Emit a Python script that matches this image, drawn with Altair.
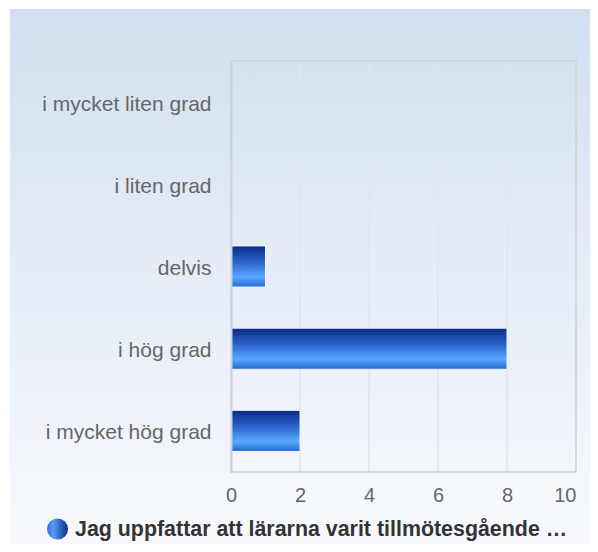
import altair as alt
import pandas as pd

categories = ["i mycket liten grad", "i liten grad", "delvis", "i hög grad", "i mycket hög grad"]
values = [0, 0, 1, 8, 2]
x_ticks = [0, 2, 4, 6, 8, 10]
series_name = "Jag uppfattar att lärarna varit tillmötesgående …"

df = pd.DataFrame({"kategori": categories, "antal": values})
ticks_df = pd.DataFrame({"t": x_ticks})
one = alt.Data(values=[{"k": 1}])

W, H = 345, 411
FONT = "Liberation Sans"

bg_grad = alt.LinearGradient(
    gradient="linear", x1=0, y1=0, x2=0, y2=1,
    stops=[alt.GradientStop(offset=0, color="#d3dff0"),
           alt.GradientStop(offset=1, color="#f8fafd")])

bar_grad = alt.LinearGradient(
    gradient="linear", x1=0, y1=0, x2=0, y2=1,
    stops=[alt.GradientStop(offset=0, color="#082a87"),
           alt.GradientStop(offset=0.4, color="#2c64cc"),
           alt.GradientStop(offset=0.75, color="#5aa8ff"),
           alt.GradientStop(offset=1, color="#2468d2")])

dot_grad = alt.LinearGradient(
    gradient="linear", x1=0, y1=0, x2=1, y2=0,
    stops=[alt.GradientStop(offset=0, color="#2f6fd8"),
           alt.GradientStop(offset=0.3, color="#5a9cf0"),
           alt.GradientStop(offset=1, color="#0a2a88")])

xscale = alt.Scale(domain=[0, 10], nice=False)
yscale = alt.Scale(domain=categories, paddingInner=0.5, paddingOuter=0.25)

x_axis = alt.Axis(values=x_ticks, grid=False, ticks=False, domain=False,
                  labelFontSize=20, labelColor="#666666", labelPadding=13,
                  labelFlush=False, labelFont=FONT, title=None, zindex=1,
                  labelAlign=alt.expr("datum.value == 10 ? 'right' : 'center'"))

bg = alt.Chart(one).mark_rect(fill=bg_grad).encode(
    x=alt.value(-221), x2=alt.value(359), y=alt.value(-52), y2=alt.value(483))

grid = alt.Chart(ticks_df).mark_rule(color="#e1e5ec", strokeWidth=1.5).encode(
    x=alt.X("t:Q", scale=xscale, axis=x_axis))

border = alt.Chart(one).mark_rect(fillOpacity=0, stroke="#cfd4da", strokeWidth=1.5).encode(
    x=alt.value(0), x2=alt.value(W), y=alt.value(0), y2=alt.value(H))

bars = alt.Chart(df).transform_filter("datum.antal > 0").mark_bar(
    fill=bar_grad, stroke="#f4f7ff", strokeWidth=1).encode(
    x=alt.X("antal:Q", scale=xscale, axis=x_axis),
    y=alt.Y("kategori:N", scale=yscale, sort=categories,
            axis=alt.Axis(title=None, ticks=False, domain=True, domainColor="#c9d1e2",
                          domainWidth=2, labelFontSize=21, labelColor="#666666",
                          labelFont=FONT, labelPadding=20, labelOffset=2.5, zindex=1)))

dot = alt.Chart(one).mark_point(filled=True, shape="circle", size=441, fill=dot_grad,
                                 opacity=1).encode(
    x=alt.value(-173.5), y=alt.value(468))

title = alt.Chart(one).mark_text(text=series_name, align="left", baseline="alphabetic",
                                 fontSize=21.4, fontWeight="bold", color="#333333",
                                 font=FONT).encode(
    x=alt.value(-156), y=alt.value(475))

chart = alt.layer(bg, grid, border, bars, dot, title).properties(
    width=W, height=H,
    autosize=alt.AutoSizeParams(type="none"),
    padding={"left": 223, "top": 53, "right": 14, "bottom": 72},
).configure(font=FONT).configure_view(stroke=None)

chart.save("out.html", embed_options={"renderer": "svg", "actions": False})
